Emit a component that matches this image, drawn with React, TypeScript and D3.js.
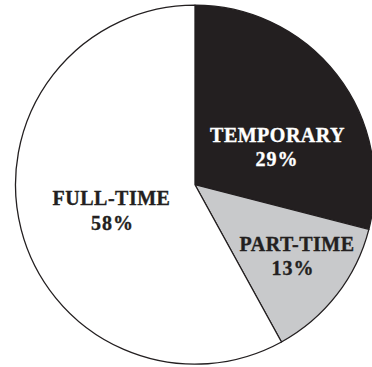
import React from "react";
import * as d3 from "d3";

const categories = ["TEMPORARY", "PART-TIME", "FULL-TIME"];
const values = [29, 13, 58];
const valueLabels = ["29%", "13%", "58%"];

const fills = ["#231f20", "#c8c9cb", "#ffffff"];
const textColors = ["#ffffff", "#231f20", "#231f20"];
// label block centres relative to the pie centre, plus small nudge for value line
const labelLayout = [
  { dx: 82.5, dy: -36.7, vdx: -0.5 },
  { dx: 102, dy: 72, vdx: -4 },
  { dx: -83.5, dy: 26.7, vdx: 1 },
];

const W = 372;
const H = 367;
const cx = 195;
const cy = 184.7;
const R = 179.5;
const FONT = "'Liberation Serif', 'Times New Roman', Times, serif";

export default function App() {
  const pie = d3
    .pie<number>()
    .sort(null)
    .value((d) => d)
    .startAngle(0)
    .endAngle(2 * Math.PI);
  const arcs = pie(values);
  const arc = d3.arc<d3.PieArcDatum<number>>().innerRadius(0).outerRadius(R);

  return (
    <svg
      width={W}
      height={H}
      style={{ position: "absolute", left: 0, top: 0, background: "#fff" }}
    >
      <g transform={`translate(${cx},${cy})`}>
        {arcs.map((a, i) => (
          <path
            key={i}
            d={arc(a) || ""}
            fill={fills[i]}
            stroke="#231f20"
            strokeWidth={1.3}
            strokeLinejoin="round"
          />
        ))}
        {arcs.map((a, i) => {
          const l = labelLayout[i];
          return (
            <g key={"l" + i} transform={`translate(${l.dx},${l.dy})`}>
              <text
                textAnchor="middle"
                y={-6}
                fontFamily={FONT}
                fontWeight="bold"
                fontSize={20}
                letterSpacing={0.5}
                fill={textColors[i]}
                stroke={textColors[i]}
                strokeWidth={0.35}
              >
                {categories[i]}
              </text>
              <text
                textAnchor="middle"
                x={l.vdx}
                y={18.3}
                fontFamily={FONT}
                fontWeight="bold"
                fontSize={20}
                letterSpacing={1}
                fill={textColors[i]}
                stroke={textColors[i]}
                strokeWidth={0.35}
              >
                {valueLabels[i]}
              </text>
            </g>
          );
        })}
      </g>
    </svg>
  );
}
